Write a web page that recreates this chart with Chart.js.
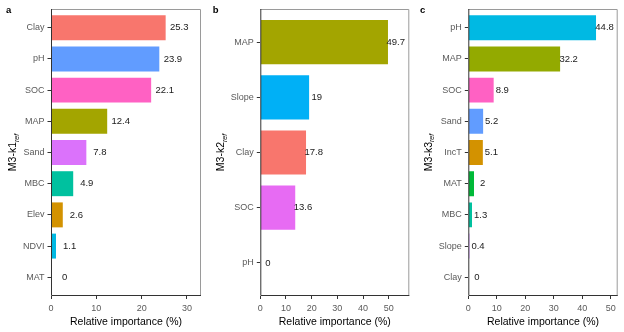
<!DOCTYPE html>
<html>
<head>
<meta charset="utf-8">
<script src="https://cdn.jsdelivr.net/npm/chart.js@4.4.1/dist/chart.umd.min.js"></script>
<style>
  body { margin: 0; background: #fff; }
  #wrap { position: relative; width: 624px; height: 332px; overflow: hidden; }
  canvas { position: absolute; top: 0; }
</style>
</head>
<body>
<div id="wrap">
  <canvas id="panelA" width="205" height="332" style="left:0px"></canvas>
  <canvas id="panelB" width="206" height="332" style="left:205px"></canvas>
  <canvas id="panelC" width="213" height="332" style="left:411px"></canvas>
</div>
<script>
// ---------- data ----------
const labelsA = ["Clay", "pH", "SOC", "MAP", "Sand", "MBC", "Elev", "NDVI", "MAT"];
const valuesA = [25.3, 23.9, 22.1, 12.4, 7.8, 4.9, 2.6, 1.1, 0];
const colorsA = ["#F8766D", "#619CFF", "#FF61C3", "#A3A500", "#DB72FB", "#00C19F", "#D39200", "#00B9E3", "#00BA38"];

const labelsB = ["MAP", "Slope", "Clay", "SOC", "pH"];
const valuesB = [49.7, 19, 17.8, 13.6, 0];
const colorsB = ["#A3A500", "#00B0F6", "#F8766D", "#E76BF3", "#619CFF"];

const labelsC = ["pH", "MAP", "SOC", "Sand", "IncT", "MAT", "MBC", "Slope", "Clay"];
const valuesC = [44.8, 32.2, 8.9, 5.2, 5.1, 2, 1.3, 0.4, 0];
const colorsC = ["#00B9E3", "#93AA00", "#FF61C3", "#619CFF", "#D39200", "#00BA38", "#00C19F", "#C77CFF", "#F8766D"];

const xTicksA = [0, 10, 20, 30];
const xTicksB = [0, 10, 20, 30, 40, 50];
const xTicksC = [0, 10, 20, 30, 40, 50];

const FONT = '"Liberation Sans", Arial, sans-serif';
const LABEL_SHIFT = 3; // value text sits 3 units right of the bar end

// frame, value labels, rotated y title with subscript, panel letter
const panelDecor = {
  id: "panelDecor",
  afterDatasetsDraw(chart, args, o) {
    const ctx = chart.ctx, a = chart.chartArea, xs = chart.scales.x;
    const meta = chart.getDatasetMeta(0);
    ctx.save();
    ctx.lineWidth = 1;
    ctx.strokeStyle = "#9a9a9a";
    ctx.beginPath();
    ctx.moveTo(a.left, a.top + 0.5);
    ctx.lineTo(a.right - 0.5, a.top + 0.5);
    ctx.lineTo(a.right - 0.5, a.bottom);
    ctx.stroke();
    ctx.strokeStyle = "#333";
    ctx.beginPath();
    ctx.moveTo(a.left + 0.5, a.top);
    ctx.lineTo(a.left + 0.5, a.bottom - 0.5);
    ctx.lineTo(a.right, a.bottom - 0.5);
    ctx.stroke();

    ctx.font = "9.5px " + FONT;
    ctx.fillStyle = "#1a1a1a";
    ctx.textAlign = "center";
    ctx.textBaseline = "middle";
    meta.data.forEach((bar, i) => {
      const v = chart.data.datasets[0].data[i].x;
      ctx.fillText(String(v), xs.getPixelForValue(v + LABEL_SHIFT), bar.y);
    });

    // x title
    ctx.font = "10.5px " + FONT;
    ctx.fillStyle = "#000";
    ctx.fillText("Relative importance (%)", (a.left + a.right) / 2, 322);

    // y title: M3-kN with italic "ref" subscript
    const main = o.yTitle, sub = "ref";
    ctx.font = "10.5px " + FONT;
    const w1 = ctx.measureText(main).width;
    ctx.font = "italic 7px " + FONT;
    const w2 = ctx.measureText(sub).width;
    ctx.translate(o.titleX, (a.top + a.bottom) / 2);
    ctx.rotate(-Math.PI / 2);
    ctx.textAlign = "left";
    ctx.textBaseline = "alphabetic";
    ctx.font = "10.5px " + FONT;
    ctx.fillText(main, -(w1 + w2) / 2, 4);
    ctx.font = "italic 7px " + FONT;
    ctx.fillText(sub, -(w1 + w2) / 2 + w1, 6.5);
    ctx.restore();

    ctx.save();
    ctx.font = "bold 9.5px " + FONT;
    ctx.fillStyle = "#000";
    ctx.textAlign = "left";
    ctx.textBaseline = "alphabetic";
    ctx.fillText(o.letter, o.letterX, 13);
    ctx.restore();
  }
};

function makePanel(id, labels, values, colors, xTicks, xMax, yWidth, padRight, yTitle, titleX, letter, letterX) {
  return new Chart(document.getElementById(id), {
    type: "bar",
    data: {
      datasets: [{
        data: values.map((v, i) => ({ x: v, y: i })),
        backgroundColor: colors,
        borderWidth: 0,
        categoryPercentage: 1,
        barPercentage: 0.8
      }]
    },
    options: {
      indexAxis: "y",
      responsive: false,
      animation: false,
      layout: { padding: { top: 9, right: padRight, left: 0, bottom: 0 } },
      plugins: {
        legend: { display: false },
        tooltip: { enabled: false },
        panelDecor: { yTitle: yTitle, titleX: titleX, letter: letter, letterX: letterX }
      },
      scales: {
        x: {
          type: "linear",
          min: 0,
          max: xMax,
          border: { display: false },
          grid: { drawOnChartArea: false, drawTicks: true, tickLength: 3, color: "#333" },
          ticks: { color: "#5a5a5a", font: { size: 9, family: FONT }, padding: 4, maxRotation: 0 },
          afterBuildTicks: s => { s.ticks = xTicks.map(v => ({ value: v })); },
          afterFit: s => { s.height = 36; }
        },
        y: {
          type: "linear",
          min: -0.6,
          max: labels.length - 0.4,
          reverse: true,
          offset: false,
          border: { display: false },
          grid: { offset: false, drawOnChartArea: false, drawTicks: true, tickLength: 3.5, color: "#333" },
          ticks: {
            color: "#5a5a5a",
            font: { size: 9, family: FONT },
            padding: 3,
            autoSkip: false,
            callback: v => labels[v]
          },
          afterBuildTicks: s => { s.ticks = labels.map((_, i) => ({ value: i })); },
          afterFit: s => { s.width = yWidth; }
        }
      }
    },
    plugins: [panelDecor]
  });
}

makePanel("panelA", labelsA, valuesA, colorsA, xTicksA, 33.1, 51, 4, "M3-k1", 12, "a", 6);
makePanel("panelB", labelsB, valuesB, colorsB, xTicksB, 58, 55.3, 1.7, "M3-k2", 15, "b", 7.7);
makePanel("panelC", labelsC, valuesC, colorsC, xTicksC, 52.4, 57.3, 6.3, "M3-k3", 16.5, "c", 9);
</script>
</body>
</html>
